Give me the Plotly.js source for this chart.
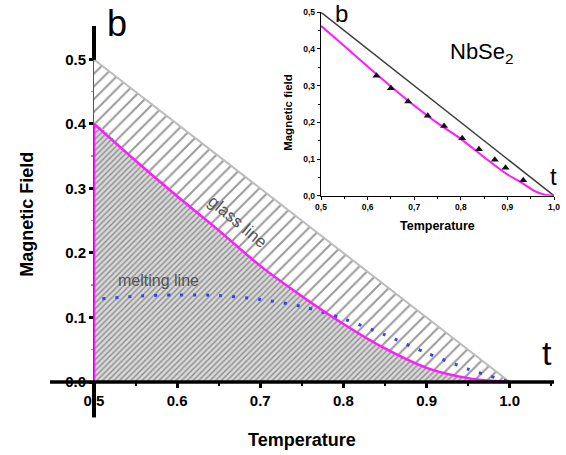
<!DOCTYPE html>
<html>
<head>
<meta charset="utf-8">
<script src="https://cdn.plot.ly/plotly-3.0.1.min.js"></script>
<style>html,body{margin:0;padding:0;background:#fff;}#chart{width:566px;height:455px;}</style>
</head>
<body>
<div id="chart"></div>
<script>
// ---- main chart data ----
const outerT = [0.5, 1.0];
const outerB = [0.5, 0.0];
const glassT = [0.5, 0.55, 0.6, 0.65, 0.7, 0.75, 0.8, 0.85, 0.9, 0.95, 1.0];
const glassB = [0.400, 0.343, 0.288, 0.235, 0.180, 0.133, 0.090, 0.052, 0.022, 0.006, 0.0];
const meltT = [0.51, 0.55, 0.6, 0.65, 0.7, 0.75, 0.8, 0.85, 0.9, 0.95, 1.0];
const meltB = [0.129, 0.133, 0.135, 0.134, 0.128, 0.117, 0.098, 0.073, 0.045, 0.020, 0.0];
const mainXTicks = [0.5, 0.6, 0.7, 0.8, 0.9, 1.0];
const mainYTicks = [0.0, 0.1, 0.2, 0.3, 0.4, 0.5];

// ---- inset (NbSe2) data ----
const insetLineT = [0.5, 1.0];
const insetLineB = [0.5, 0.0];
const insetFitT = [0.5, 0.55, 0.6, 0.65, 0.7, 0.75, 0.8, 0.85, 0.9, 0.93, 0.96, 0.98, 1.0];
const insetFitB = [0.463, 0.408, 0.352, 0.298, 0.246, 0.198, 0.155, 0.105, 0.058, 0.036, 0.012, 0.003, 0.0];
const insetDataT = [0.619, 0.650, 0.687, 0.729, 0.764, 0.803, 0.839, 0.873, 0.896, 0.934];
const insetDataB = [0.327, 0.293, 0.257, 0.218, 0.190, 0.157, 0.127, 0.098, 0.076, 0.042];
const insetXTickVals = [0.5, 0.6, 0.7, 0.8, 0.9, 1.0];
const insetXTickText = ["0,5", "0,6", "0,7", "0,8", "0,9", "1,0"];
const insetYTickVals = [0.0, 0.1, 0.2, 0.3, 0.4, 0.5];
const insetYTickText = ["0,0", "0,1", "0,2", "0,3", "0,4", "0,5"];

const FONT = "Liberation Sans, Arial, Helvetica, sans-serif";

const traces = [
  { // sparse hatched triangle (glass region)
    x: [outerT[0], outerT[1], outerT[0]],
    y: [outerB[0], outerB[1], 0],
    mode: 'lines', fill: 'toself', line: {width: 0, color: 'rgba(0,0,0,0)'},
    fillpattern: {shape: '/', size: 9, solidity: 0.22, fgcolor: '#9a9a9a', bgcolor: '#ffffff'},
    hoverinfo: 'skip'
  },
  { // dense hatched region below glass line
    x: [glassT[0]].concat(glassT),
    y: [0].concat(glassB),
    mode: 'lines', fill: 'toself', line: {width: 0, color: 'rgba(0,0,0,0)', shape: 'spline', smoothing: 0.5},
    fillpattern: {shape: '/', size: 4, solidity: 0.35, fgcolor: '#8c8c8c', bgcolor: '#d9d9d9'},
    hoverinfo: 'skip'
  },
  { // outer boundary
    x: outerT, y: outerB, mode: 'lines',
    line: {color: '#bdbdbd', width: 2}
  },
  { // melting line
    x: meltT, y: meltB, mode: 'lines',
    line: {color: '#3a3ff0', width: 3, dash: '3px,10px', shape: 'spline', smoothing: 0.8}
  },
  { // glass line: vertical edge at t = 0.5
    x: [glassT[0], glassT[0]], y: [0, glassB[0]], mode: 'lines',
    line: {color: '#ff1aff', width: 2.5}
  },
  { // glass line curve
    x: glassT, y: glassB, mode: 'lines',
    line: {color: '#ff1aff', width: 2.5, shape: 'spline', smoothing: 0.8}
  },
  // inset
  {
    x: insetLineT, y: insetLineB, mode: 'lines', xaxis: 'x2', yaxis: 'y2',
    line: {color: '#3c3c3c', width: 1.5}
  },
  {
    x: insetFitT, y: insetFitB, mode: 'lines', xaxis: 'x2', yaxis: 'y2',
    line: {color: '#ff1aff', width: 2, shape: 'spline', smoothing: 0.6}
  },
  {
    x: insetDataT, y: insetDataB, mode: 'markers', xaxis: 'x2', yaxis: 'y2',
    marker: {symbol: 'triangle-up', size: 7, color: '#111'}
  }
];

// main plot area: x 94..554 px, y 10..382.5 px
const PW = 460, PH = 372.5;
const px = v => (v - 94) / PW;
const py = v => (382.5 - v) / PH;

function label(text, x, y, size, opts) {
  return Object.assign({
    text: text, xref: 'paper', yref: 'paper', x: px(x), y: py(y),
    xanchor: 'center', yanchor: 'middle', showarrow: false,
    font: {family: FONT, size: size, color: '#000'}
  }, opts || {});
}

const layout = {
  width: 566, height: 455,
  margin: {l: 94, r: 12, t: 10, b: 72.5},
  paper_bgcolor: '#fff', plot_bgcolor: '#fff',
  showlegend: false,
  font: {family: FONT, color: '#000'},
  xaxis: {
    range: [0.5, 1.0533], showgrid: false, zeroline: false, showline: false,
    tickvals: mainXTicks, ticktext: mainXTicks.map(v => v.toFixed(1)),
    ticks: 'outside', ticklen: 5, tickwidth: 3, tickcolor: '#000',
    tickfont: {family: FONT, size: 15, weight: 'bold', color: '#000'},
    minor: {tickvals: [0.55, 0.65, 0.75, 0.85, 0.95, 1.05], ticks: 'outside', ticklen: 3, tickwidth: 2, tickcolor: '#000'}
  },
  yaxis: {
    range: [0, 0.5766], showgrid: false, zeroline: false, showline: false,
    tickvals: mainYTicks, ticktext: mainYTicks.map(v => v.toFixed(1)),
    ticks: 'outside', ticklen: 4, tickwidth: 3, tickcolor: '#000',
    tickfont: {family: FONT, size: 15, weight: 'bold', color: '#000'},
    minor: {tickvals: [0.05, 0.15, 0.25, 0.35, 0.45], ticks: 'outside', ticklen: 2, tickwidth: 1.5, tickcolor: '#999'}
  },
  xaxis2: {
    domain: [0.4935, 1.0], anchor: 'y2', range: [0.5, 1.0],
    showgrid: false, zeroline: false, showline: true, linecolor: '#000', linewidth: 1.3,
    tickvals: insetXTickVals, ticktext: insetXTickText,
    ticks: 'outside', ticklen: 3, tickwidth: 1, tickcolor: '#000',
    tickfont: {family: FONT, size: 8.5, weight: 'bold', color: '#000'},
    minor: {tickvals: [0.55, 0.65, 0.75, 0.85, 0.95], ticks: 'outside', ticklen: 2, tickwidth: 1, tickcolor: '#000'}
  },
  yaxis2: {
    domain: [0.5007, 0.9938], anchor: 'x2', range: [0, 0.5],
    showgrid: false, zeroline: false, showline: true, linecolor: '#000', linewidth: 1.3,
    tickvals: insetYTickVals, ticktext: insetYTickText,
    ticks: 'outside', ticklen: 3, tickwidth: 1, tickcolor: '#000',
    tickfont: {family: FONT, size: 8.5, weight: 'bold', color: '#000'},
    minor: {tickvals: [0.05, 0.15, 0.25, 0.35, 0.45], ticks: 'outside', ticklen: 2, tickwidth: 1, tickcolor: '#000'}
  },
  shapes: [
    {type: 'line', xref: 'paper', yref: 'paper', x0: 0, x1: 0, y0: 0, y1: py(60), layer: 'below',
     line: {color: '#555', width: 2}},
    {type: 'line', xref: 'paper', yref: 'paper', x0: 0, x1: 0, y0: py(60), y1: py(26),
     line: {color: '#000', width: 4}},
    {type: 'line', xref: 'paper', yref: 'paper', x0: 0, x1: 0, y0: py(382.5), y1: py(418),
     line: {color: '#000', width: 4}},
    {type: 'line', xref: 'paper', yref: 'paper', x0: px(50), x1: px(554), y0: 0, y1: 0,
     line: {color: '#000', width: 3.5}}
  ],
  annotations: [
    label('b', 117, 24, 36),
    label('t', 547, 353, 34),
    label('glass line', 237, 222, 17, {textangle: 40, font: {family: FONT, size: 17, color: '#555'}}),
    label('melting line', 158, 281, 16, {font: {family: FONT, size: 16, color: '#555'}}),
    label('Temperature', 302, 441, 18, {font: {family: FONT, size: 18, weight: 'bold', color: '#000'}}),
    label('Magnetic Field', 27, 215, 18, {textangle: -90, font: {family: FONT, size: 18, weight: 'bold', color: '#000'}}),
    label('b', 341, 14, 24),
    label('t', 553, 177, 24),
    label('NbSe<sub>2</sub>', 482, 53, 22),
    label('Magnetic field', 288, 113, 11.5, {textangle: -90, font: {family: FONT, size: 11.5, weight: 'bold', color: '#000'}}),
    label('Temperature', 437.5, 226.7, 12.5, {font: {family: FONT, size: 12.5, weight: 'bold', color: '#000'}})
  ]
};

Plotly.newPlot('chart', traces, layout, {staticPlot: true, displayModeBar: false});
</script>
</body>
</html>
